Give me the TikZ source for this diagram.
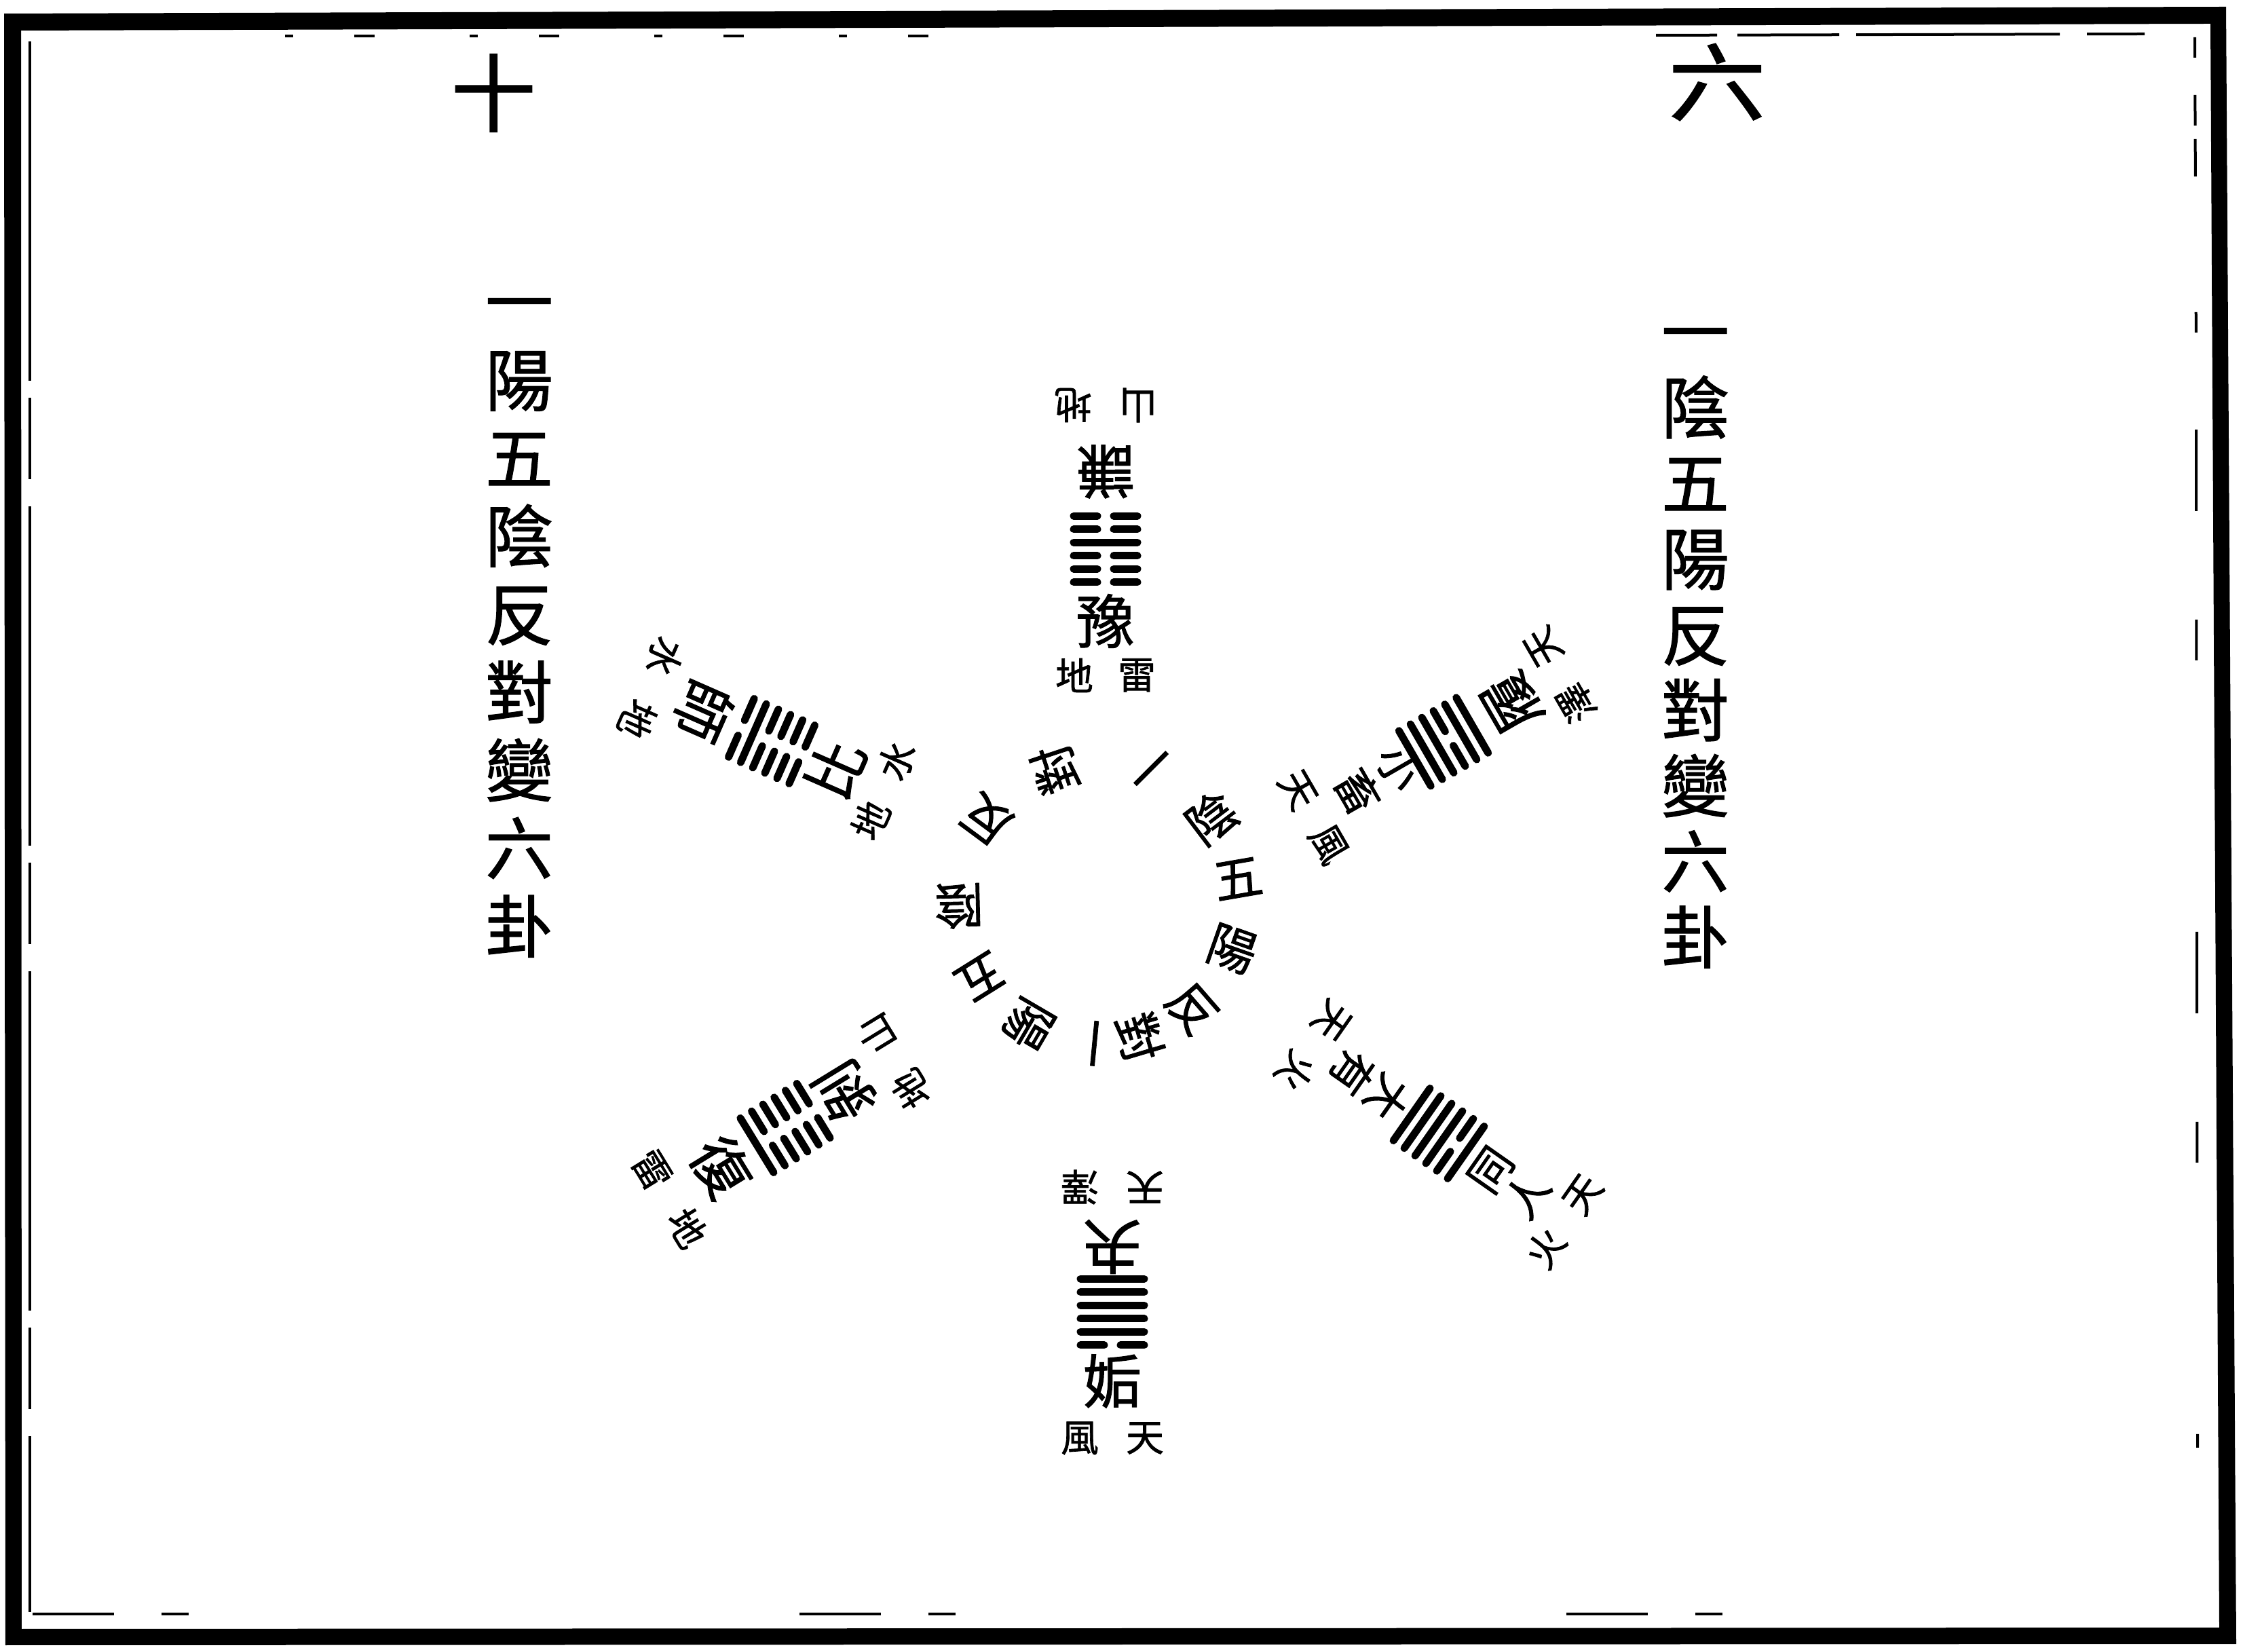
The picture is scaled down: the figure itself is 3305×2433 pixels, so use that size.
\documentclass[tikz,border=0pt]{standalone}
\usepackage{fontspec}
\newfontfamily\cjk[FakeBold=1.2]{Noto Sans CJK TC}
\newcommand\hexlines[1]{%
  \foreach \k/\v in {#1} {%
    \pgfmathsetmacro\ya{-48.75+19.5*(\k-1)}%
    \ifnum\v=1
      \draw[yao] (-47,\ya) -- (47,\ya);
    \else
      \draw[yao] (-47,\ya) -- (-12,\ya);
      \draw[yao] (12,\ya) -- (47,\ya);
    \fi
  }}
\begin{document}
\begin{tikzpicture}[x=1pt,y=1pt,
  yao/.style={line width=11pt,line cap=round},
  big/.style={font={\cjk\fontsize{125}{125}\selectfont},inner sep=0pt},
  colL/.style={font={\cjk\fontsize{100}{115}\selectfont},align=center,inner sep=0pt},
  colR/.style={font={\cjk\fontsize{100}{111.5}\selectfont},align=center,inner sep=0pt},
  ring/.style={font={\cjk\fontsize{72}{72}\selectfont},inner sep=0pt},
  gua/.style={font={\cjk\fontsize{86}{86}\selectfont},inner sep=0pt},
  guab/.style={font={\cjk\fontsize{64}{64}\selectfont},inner sep=0pt},
  tri/.style={font={\cjk\fontsize{56}{56}\selectfont},inner sep=0pt},
  thin/.style={line width=4pt}]
\useasboundingbox (0,0) rectangle (3305,2433);
\fill[white] (0,0) rectangle (3305,2433);
% frame
\fill[black,even odd rule] (6,2413) -- (3280,2423) -- (3295,11) -- (8,9) -- cycle
  (31,2388) -- (3257,2398) -- (3270,35) -- (32,33) -- cycle;
\draw[thin,dash pattern=on 500pt off 25pt on 120pt off 40pt] (44,2372) -- (44,58);
\draw[thin,dash pattern=on 12pt off 90pt on 30pt off 140pt] (420,2380) -- (1500,2380);
\draw[thin,dash pattern=on 90pt off 30pt on 150pt off 25pt on 300pt off 40pt] (2440,2381) -- (3160,2383);
\draw[thin,dash pattern=on 30pt off 55pt on 45pt off 20pt on 55pt off 200pt] (3234,2378) -- (3236,1900);
\draw[thin,dash pattern=on 120pt off 160pt on 60pt off 400pt] (3236,1800) -- (3238,300);
\draw[thin,dash pattern=on 120pt off 70pt on 40pt off 900pt] (48,55) -- (3200,55);
% corner numerals
\node[big] (shi) at (727,2296) {十};
\node[big,xscale=1.15] (liu) at (2530,2312) {六};
% side columns
\node[colL] (colleft) at (765,1508) {一\\陽\\五\\陰\\反\\對\\變\\六\\卦};
\node[colR] (colright) at (2498,1478) {一\\陰\\五\\陽\\反\\對\\變\\六\\卦};
% central ring
\begin{scope}[shift={(1620,1103)}]
\foreach \a/\r/\c [count=\i] in {65.8/45/一,37.2/37.2/陰,9.8/9.8/五,-19.3/-19.3/陽,-49/-49/反,-73.5/-73.5/對,-95.5/-95.5/一,-120.3/-120.3/陽,-148/-148/五,-178.6/-178.6/陰,143.5/143.5/反,108.3/108.3/對}
  {\node[ring,rotate=\r] (ring\i) at (\a:207) {\c};}
\end{scope}
% arm 1: 豫 / 謙
\begin{scope}[shift={(1629,1624)},rotate=0,transform shape]
  \hexlines{1/0,2/0,3/0,4/1,5/0,6/0}
  \node[gua] (yu) at (0,-106) {豫};
  \node[tri] (yuA) at (46,-186) {雷};
  \node[tri] (yuB) at (-46,-186) {地};
  \node[gua,rotate=180] (qian) at (0,114) {謙};
  \node[tri,rotate=180] (qianA) at (-48,212) {地};
  \node[tri,rotate=180] (qianB) at (48,212) {山};
\end{scope}
% arm 2: 小畜 / 履
\begin{scope}[shift={(2127,1340)},rotate=-60,transform shape]
  \hexlines{1/1,2/1,3/1,4/0,5/1,6/1}
  \node[guab] (xcA) at (0,-76) {小};
  \node[guab] (xcB) at (0,-146) {畜};
  \node[tri] (xcC) at (46,-222) {風};
  \node[tri] (xcD) at (-46,-222) {天};
  \node[gua,rotate=180] (lu) at (0,116) {履};
  \node[tri,rotate=180] (luA) at (-48,198) {天};
  \node[tri,rotate=180] (luB) at (48,198) {澤};
\end{scope}
% arm 3: 大有 / 同人
\begin{scope}[shift={(2120,763)},rotate=-125,transform shape]
  \hexlines{1/1,2/1,3/1,4/1,5/0,6/1}
  \node[guab] (dyA) at (0,-92) {大};
  \node[guab] (dyB) at (0,-156) {有};
  \node[tri] (dyC) at (46,-226) {火};
  \node[tri] (dyD) at (-46,-226) {天};
  \node[guab,rotate=180] (trA) at (0,94) {同};
  \node[guab,rotate=180] (trB) at (0,158) {人};
  \node[tri,rotate=180] (trC) at (-48,226) {天};
  \node[tri,rotate=180] (trD) at (48,226) {火};
\end{scope}
% arm 4: 夬 / 姤
\begin{scope}[shift={(1639,500)},rotate=-180,transform shape]
  \hexlines{1/1,2/1,3/1,4/1,5/1,6/0}
  \node[gua] (guai) at (0,-96) {夬};
  \node[tri] (guaiA) at (48,-184) {澤};
  \node[tri] (guaiB) at (-48,-184) {天};
  \node[gua,rotate=180] (gou) at (0,102) {姤};
  \node[tri,rotate=180] (gouA) at (-48,186) {天};
  \node[tri,rotate=180] (gouB) at (48,186) {風};
\end{scope}
% arm 5: 剝 / 復
\begin{scope}[shift={(1157,771)},rotate=121.5,transform shape]
  \hexlines{1/0,2/0,3/0,4/0,5/0,6/1}
  \node[gua] (bo) at (0,-102) {剝};
  \node[tri] (boA) at (48,-188) {山};
  \node[tri] (boB) at (-48,-188) {地};
  \node[gua,rotate=180] (fu) at (0,110) {復};
  \node[tri,rotate=180] (fuA) at (-50,200) {地};
  \node[tri,rotate=180] (fuB) at (50,200) {雷};
\end{scope}
% arm 6: 比 / 師
\begin{scope}[shift={(1137,1341)},rotate=66.3,transform shape]
  \hexlines{1/0,2/0,3/0,4/0,5/1,6/0}
  \node[gua] (bi) at (0,-102) {比};
  \node[tri] (biA) at (48,-180) {水};
  \node[tri] (biB) at (-48,-180) {地};
  \node[gua,rotate=180] (shi2) at (0,110) {師};
  \node[tri,rotate=180] (shiA) at (-50,194) {地};
  \node[tri,rotate=180] (shiB) at (50,194) {水};
\end{scope}
\end{tikzpicture}
\end{document}
